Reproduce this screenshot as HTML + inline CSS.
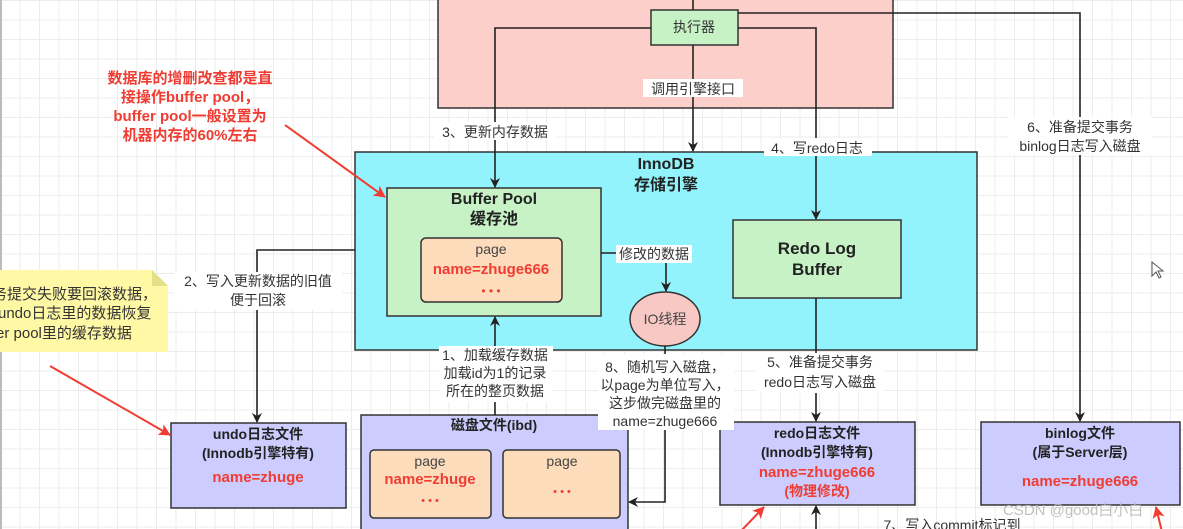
<!DOCTYPE html>
<html><head><meta charset="utf-8"><style>
html,body{margin:0;padding:0;}
body{width:1183px;height:529px;overflow:hidden;background-color:#fff;
background-image:linear-gradient(#ececec 1px,transparent 1px),linear-gradient(90deg,#ececec 1px,transparent 1px);background-size:19.5px 19.5px;}
svg{position:absolute;left:0;top:0;}
text{font-family:"Liberation Sans","Noto Sans CJK SC",sans-serif;}
</style></head><body>
<svg width="1183" height="529" viewBox="0 0 1183 529" xmlns="http://www.w3.org/2000/svg">
<defs>
<marker id="a" markerWidth="10" markerHeight="10" refX="9" refY="5" orient="auto" markerUnits="userSpaceOnUse"><path d="M0,0 L10,5 L0,10 L3,5 z" fill="#222"/></marker>
<marker id="r" markerWidth="12" markerHeight="12" refX="11" refY="6" orient="auto" markerUnits="userSpaceOnUse"><path d="M0,0 L12,6 L0,12 L3,6 z" fill="#f03c32"/></marker>
</defs>
<line x1="1" y1="0" x2="1" y2="529" stroke="#bbb" stroke-width="2"/>
<rect x="438" y="-5" width="455" height="113" fill="#fdcfcb" stroke="#333" stroke-width="1.5"/>
<rect x="355" y="152" width="622" height="198" fill="#92f3fc" stroke="#333" stroke-width="1.5"/>
<text x="666" y="169" font-size="16" font-weight="bold" text-anchor="middle" fill="#222">InnoDB</text>
<text x="666" y="190" font-size="16" font-weight="bold" text-anchor="middle" fill="#222">存储引擎</text>
<rect x="387" y="188" width="214" height="128" fill="#c6f2c6" stroke="#333" stroke-width="1.5"/>
<text x="494" y="204" font-size="16" font-weight="bold" text-anchor="middle" fill="#222">Buffer Pool</text>
<text x="494" y="224" font-size="16" font-weight="bold" text-anchor="middle" fill="#222">缓存池</text>
<rect x="421" y="238" width="141" height="64" rx="5" fill="#fddcbc" stroke="#333" stroke-width="1.5"/>
<text x="491" y="254" font-size="14" text-anchor="middle" fill="#444">page</text>
<text x="491" y="274" font-size="15" font-weight="bold" text-anchor="middle" fill="#f03c32">name=zhuge666</text>
<text x="491" y="295" font-size="12" text-anchor="middle" fill="#f03c32">•   •   •</text>
<rect x="733" y="220" width="168" height="78" fill="#c6f2c6" stroke="#333" stroke-width="1.5"/>
<text x="817" y="254" font-size="17" font-weight="bold" text-anchor="middle" fill="#222">Redo Log</text>
<text x="817" y="275" font-size="17" font-weight="bold" text-anchor="middle" fill="#222">Buffer</text>
<ellipse cx="665" cy="319" rx="35" ry="27" fill="#f8c8c4" stroke="#333" stroke-width="1.5"/>
<text x="665" y="324" font-size="14" text-anchor="middle" fill="#444">IO线程</text>
<rect x="651" y="10" width="87" height="35" fill="#c6f2c6" stroke="#333" stroke-width="1.5"/>
<text x="694" y="32" font-size="14" text-anchor="middle" fill="#333">执行器</text>
<rect x="171" y="423" width="175" height="85" fill="#ccccff" stroke="#333" stroke-width="1.5"/>
<text x="258" y="439" font-size="14" font-weight="bold" text-anchor="middle" fill="#222">undo日志文件</text>
<text x="258" y="458" font-size="14" font-weight="bold" text-anchor="middle" fill="#222">(Innodb引擎特有)</text>
<text x="258" y="482" font-size="15" font-weight="bold" text-anchor="middle" fill="#f03c32">name=zhuge</text>
<rect x="361" y="415" width="267" height="120" fill="#ccccff" stroke="#333" stroke-width="1.5"/>
<text x="494" y="430" font-size="14" font-weight="bold" text-anchor="middle" fill="#222">磁盘文件(ibd)</text>
<rect x="370" y="450" width="121" height="68" rx="4" fill="#fddcbc" stroke="#333" stroke-width="1.5"/>
<text x="430" y="466" font-size="14" text-anchor="middle" fill="#444">page</text>
<text x="430" y="484" font-size="15" font-weight="bold" text-anchor="middle" fill="#f03c32">name=zhuge</text>
<text x="430" y="504" font-size="11" text-anchor="middle" fill="#f03c32">•   •   •</text>
<rect x="503" y="450" width="117" height="68" rx="4" fill="#fddcbc" stroke="#333" stroke-width="1.5"/>
<text x="562" y="466" font-size="14" text-anchor="middle" fill="#444">page</text>
<text x="562" y="495" font-size="11" text-anchor="middle" fill="#f03c32">•   •   •</text>
<rect x="720" y="422" width="195" height="83" fill="#ccccff" stroke="#333" stroke-width="1.5"/>
<text x="817" y="438" font-size="14" font-weight="bold" text-anchor="middle" fill="#222">redo日志文件</text>
<text x="817" y="457" font-size="14" font-weight="bold" text-anchor="middle" fill="#222">(Innodb引擎特有)</text>
<text x="817" y="477" font-size="15" font-weight="bold" text-anchor="middle" fill="#f03c32">name=zhuge666</text>
<text x="817" y="496" font-size="14" font-weight="bold" text-anchor="middle" fill="#f03c32">(物理修改)</text>
<rect x="981" y="422" width="199" height="83" fill="#ccccff" stroke="#333" stroke-width="1.5"/>
<text x="1080" y="438" font-size="14" font-weight="bold" text-anchor="middle" fill="#222">binlog文件</text>
<text x="1080" y="457" font-size="14" font-weight="bold" text-anchor="middle" fill="#222">(属于Server层)</text>
<text x="1080" y="486" font-size="15" font-weight="bold" text-anchor="middle" fill="#f03c32">name=zhuge666</text>
<g stroke="#222" stroke-width="1.6" fill="none">
<line x1="693" y1="0" x2="693" y2="10"/>
<path d="M651,28 H495 V187" marker-end="url(#a)"/>
<path d="M738,28 H816 V219" marker-end="url(#a)"/>
<path d="M738,13 H1080 V421" marker-end="url(#a)"/>
<path d="M693,45 V151" marker-end="url(#a)"/>
<path d="M601,253 H666 V291" marker-end="url(#a)"/>
<path d="M665,346 V502 H629" marker-end="url(#a)"/>
<path d="M816,298 V421" marker-end="url(#a)"/>
<path d="M355,250 H257 V422" marker-end="url(#a)"/>
<path d="M495,415 V317" marker-end="url(#a)"/>
<path d="M816,529 V506" marker-end="url(#a)"/>
</g>
<g font-size="14" fill="#333" text-anchor="middle">
<rect x="643" y="79" width="100" height="18" fill="#fff"/><text x="693" y="94">调用引擎接口</text>
<rect x="434" y="122" width="122" height="18" fill="#fff"/><text x="495" y="137">3、更新内存数据</text>
<rect x="764" y="138" width="108" height="18" fill="#fff"/><text x="817" y="153">4、写redo日志</text>
<rect x="1008" y="117" width="144" height="38" fill="#fff"/><text x="1080" y="132">6、准备提交事务</text><text x="1080" y="151">binlog日志写入磁盘</text>
<rect x="616" y="245" width="76" height="18" fill="#fff"/><text x="654" y="259">修改的数据</text>
<rect x="174" y="272" width="168" height="38" fill="#fff"/><text x="258" y="286">2、写入更新数据的旧值</text><text x="258" y="305">便于回滚</text>
<rect x="439" y="346" width="114" height="56" fill="#fff"/><text x="495" y="360">1、加载缓存数据</text><text x="495" y="378">加载id为1的记录</text><text x="495" y="396">所在的整页数据</text>
<rect x="598" y="354" width="136" height="76" fill="#fff"/><text x="665" y="372">8、随机写入磁盘，</text><text x="665" y="390">以page为单位写入，</text><text x="665" y="408">这步做完磁盘里的</text><text x="665" y="426">name=zhuge666</text>
<rect x="756" y="353" width="128" height="40" fill="#fff"/><text x="820" y="367">5、准备提交事务</text><text x="820" y="387">redo日志写入磁盘</text>
<text x="952" y="530">7、写入commit标记到</text>
</g>
<g font-size="15" font-weight="bold" fill="#f03c32" text-anchor="middle">
<text x="190" y="83">数据库的增删改查都是直</text>
<text x="190" y="102">接操作buffer pool，</text>
<text x="190" y="121">buffer pool一般设置为</text>
<text x="190" y="140">机器内存的60%左右</text>
</g>
<line x1="285" y1="125" x2="385" y2="197" stroke="#f03c32" stroke-width="2" marker-end="url(#r)"/>
<path d="M0,270 H152 L168,286 V352 H0 Z" fill="#fff9a6"/>
<path d="M152,270 V286 H168 Z" fill="#e6df8a"/>
<g font-size="15" fill="#333">
<text x="-8" y="299">务提交失败要回滚数据，</text>
<text x="-2" y="318">undo日志里的数据恢复</text>
<text x="-4" y="338">er pool里的缓存数据</text>
</g>
<line x1="50" y1="366" x2="170" y2="435" stroke="#f03c32" stroke-width="2" marker-end="url(#r)"/>
<line x1="740" y1="532" x2="764" y2="507" stroke="#f03c32" stroke-width="2" marker-end="url(#r)"/>
<line x1="1162" y1="532" x2="1156" y2="507" stroke="#f03c32" stroke-width="2" marker-end="url(#r)"/>
<text x="1003" y="515" font-size="15" fill="#bbb" opacity="0.9">CSDN @good白小白</text>
<path d="M1152,262 L1152,276 L1156,272 L1159,278 L1161,277 L1158,271 L1163,271 Z" fill="#fff" stroke="#555" stroke-width="1"/>
</svg>
</body></html>
